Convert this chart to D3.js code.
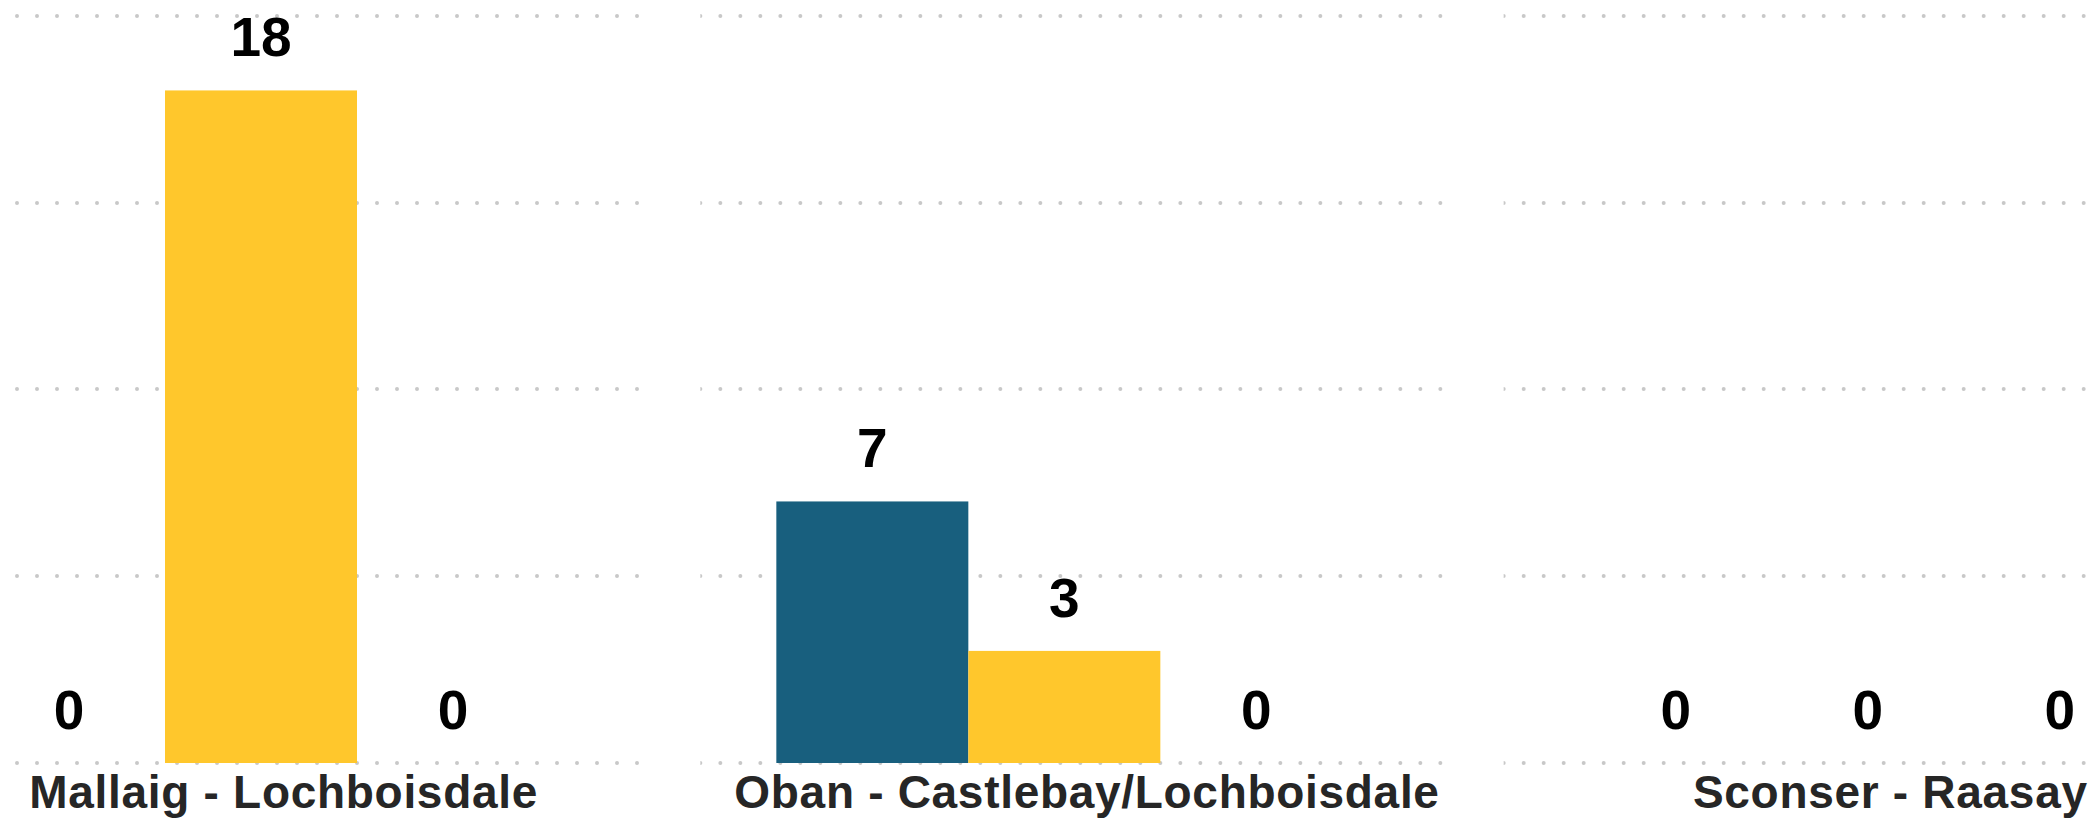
<!DOCTYPE html>
<html>
<head>
<meta charset="utf-8">
<script src="https://cdn.jsdelivr.net/npm/d3@7"></script>
<style>
  html, body { margin: 0; padding: 0; background: #fff; }
  svg { display: block; }
</style>
</head>
<body>
<svg id="chart"></svg>
<script>
// data
var routes = ["Mallaig - Lochboisdale", "Oban - Castlebay/Lochboisdale", "Sconser - Raasay"];
var series = ["s1", "s2", "s3"];
var seriesColors = ["#185f7e", "#ffc72c", "#8c8c8c"];
var s1Values = [0, 7, 0];
var s2Values = [18, 3, 0];
var s3Values = [0, 0, 0];
var yTicks = [0, 5, 10, 15, 20];

var width = 2099;
var height = 826;

var rows = routes.map(function (r, i) {
  return { route: r, values: [s1Values[i], s2Values[i], s3Values[i]] };
});

var svg = d3.select("#chart").attr("width", width).attr("height", height);

// panels run off both edges of the picture
var x0 = d3.scaleBand()
  .domain(routes)
  .range([-103, 2247])
  .paddingInner(0.0747)
  .paddingOuter(0);

var x1 = d3.scaleBand()
  .domain(series)
  .range([76, 76 + 576])
  .padding(0);

var y = d3.scaleLinear().domain([0, 20]).range([763, 15.7]);

var color = d3.scaleOrdinal().domain(series).range(seriesColors);

var defs = svg.append("defs");

var panel = svg.selectAll(".panel")
  .data(rows)
  .enter()
  .append("g")
  .attr("class", "panel")
  .attr("transform", function (d) { return "translate(" + x0(d.route) + ",0)"; });

panel.each(function (d, i) {
  defs.append("clipPath")
    .attr("id", "clip" + i)
    .append("rect")
    .attr("x", 0)
    .attr("y", 0)
    .attr("width", x0.bandwidth())
    .attr("height", height);
});

// dotted gridlines
panel.append("g")
  .attr("clip-path", function (d, i) { return "url(#clip" + i + ")"; })
  .selectAll("line")
  .data(yTicks)
  .enter()
  .append("line")
  .attr("x1", 0)
  .attr("x2", x0.bandwidth() + 2)
  .attr("y1", function (t) { return Math.round(y(t)); })
  .attr("y2", function (t) { return Math.round(y(t)); })
  .attr("stroke", "#c8c8c8")
  .attr("stroke-width", 4)
  .attr("stroke-linecap", "round")
  .attr("stroke-dasharray", "0,20");

var cells = function (d) {
  return series.map(function (s, k) { return { key: s, value: d.values[k] }; });
};

panel.selectAll(".bar")
  .data(cells)
  .enter()
  .append("rect")
  .attr("class", "bar")
  .attr("x", function (c) { return x1(c.key); })
  .attr("width", x1.bandwidth())
  .attr("y", function (c) { return y(c.value); })
  .attr("height", function (c) { return y(0) - y(c.value); })
  .attr("fill", function (c) { return color(c.key); });

panel.selectAll(".val")
  .data(cells)
  .enter()
  .append("text")
  .attr("class", "val")
  .attr("x", function (c) { return x1(c.key) + x1.bandwidth() / 2; })
  .attr("y", function (c) { return y(c.value) - 34; })
  .attr("text-anchor", "middle")
  .style("font-family", "'Liberation Sans', Arial, sans-serif")
  .style("font-weight", "bold")
  .style("font-size", "55px")
  .style("fill", "#000")
  .text(function (c) { return c.value; });

panel.append("text")
  .attr("class", "cat")
  .attr("x", x0.bandwidth() / 2 + 15)
  .attr("y", 808)
  .attr("text-anchor", "middle")
  .style("font-family", "'Liberation Sans', Arial, sans-serif")
  .style("font-weight", "bold")
  .style("font-size", "46px")
  .style("letter-spacing", "0.7px")
  .style("fill", "#262626")
  .text(function (d) { return d.route; });
</script>
</body>
</html>
